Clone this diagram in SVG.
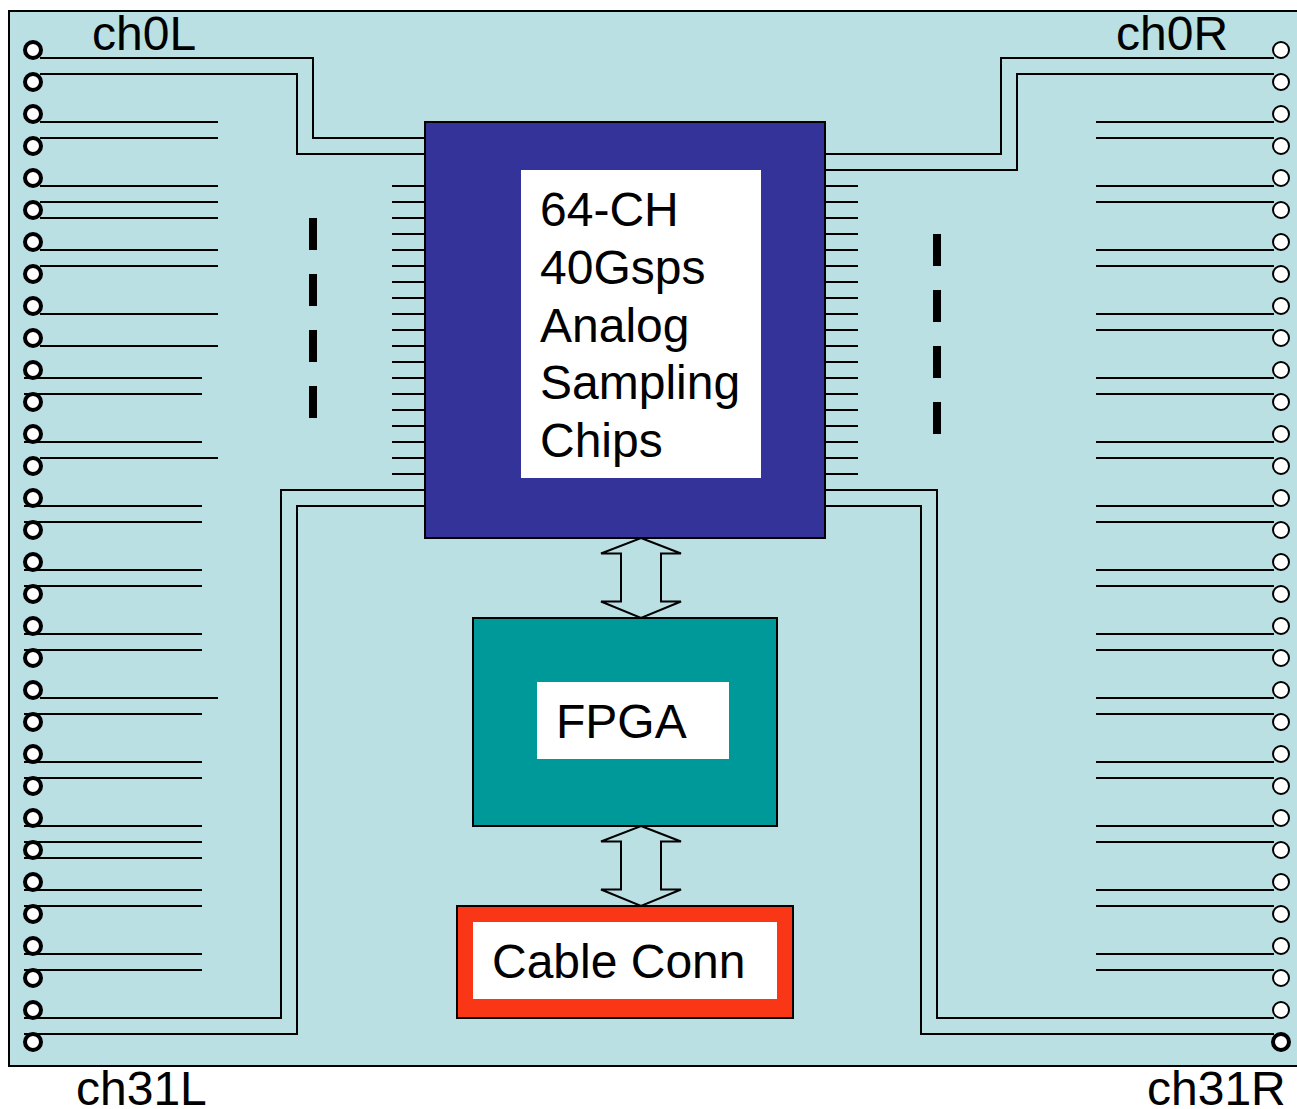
<svg xmlns="http://www.w3.org/2000/svg" width="1297" height="1109" viewBox="0 0 1297 1109">
<style>
text{font-family:"Liberation Sans",Arial,sans-serif;font-size:48px;fill:#000}
.box{stroke:#000;stroke-width:2}
.w{stroke:#000;stroke-width:2;fill:none}
.arr{stroke:#000;stroke-width:2;fill:#bae0e3;stroke-linejoin:miter}
.pl{fill:#fff;stroke:#000;stroke-width:4}
.pr{fill:#fff;stroke:#000;stroke-width:2}
.d{fill:#000}
</style>
<defs>
<circle id="pad" r="8"/>
</defs>
<rect width="1297" height="1109" fill="#fff"/>
<rect id="board" x="9" y="11" width="1292" height="1055" fill="#bae0e3" stroke="#000" stroke-width="2"/>
<g id="connectors">
<path class="w" d="M40 58H313V138H425M40 74H297V154H425M24 1018H281V490H425M24 1034H297V506H425"/>
<path class="w" d="M1274 58H1001V154H825M1274 74H1017V170H825M1274 1018H937V490H825M1274 1034H921V506H825"/>
<path class="w" d="M40 122H218M40 138H218M40 186H218M40 202H218M40 218H218M40 250H218M40 266H218M40 314H218M40 346H218M24 378H202M24 394H202M24 442H202M40 458H218M24 506H202M24 522H202M24 570H202M24 586H202M24 634H202M24 650H202M40 698H218M24 714H202M24 762H202M24 778H202M24 826H202M24 842H202M24 858H202M24 890H202M24 906H202M24 954H202M24 970H202"/>
<path class="w" d="M1096 122H1274M1096 138H1274M1096 186H1274M1096 202H1274M1096 250H1274M1096 266H1274M1096 314H1274M1096 330H1274M1096 378H1274M1096 394H1274M1096 442H1274M1096 458H1274M1096 506H1274M1096 522H1274M1096 570H1274M1096 586H1274M1096 634H1274M1096 650H1274M1096 698H1274M1096 714H1274M1096 762H1274M1096 778H1274M1096 826H1274M1096 842H1274M1096 890H1274M1096 906H1274M1096 954H1274M1096 970H1274"/>
<path class="w" d="M392 186H425M392 202H425M392 218H425M392 234H425M392 250H425M392 266H425M392 282H425M392 298H425M392 314H425M392 330H425M392 346H425M392 362H425M392 378H425M392 394H425M392 410H425M392 426H425M392 442H425M392 458H425M392 474H425"/>
<path class="w" d="M825 186H858M825 202H858M825 218H858M825 234H858M825 250H858M825 266H858M825 282H858M825 298H858M825 314H858M825 330H858M825 346H858M825 362H858M825 378H858M825 394H858M825 410H858M825 426H858M825 442H858M825 458H858M825 474H858"/>
<polygon class="arr" points="641,538 681,553.500 661,553.500 661,601.500 681,601.500 641,618 601,601.500 621,601.500 621,553.500 601,553.500"/>
<polygon class="arr" points="641,826 681,841.500 661,841.500 661,889.500 681,889.500 641,906 601,889.500 621,889.500 621,841.500 601,841.500"/>
</g>
<g id="pads-left" class="pl">
<use href="#pad" x="33" y="50"/><use href="#pad" x="33" y="82"/><use href="#pad" x="33" y="114"/><use href="#pad" x="33" y="146"/><use href="#pad" x="33" y="178"/><use href="#pad" x="33" y="210"/><use href="#pad" x="33" y="242"/><use href="#pad" x="33" y="274"/><use href="#pad" x="33" y="306"/><use href="#pad" x="33" y="338"/><use href="#pad" x="33" y="370"/><use href="#pad" x="33" y="402"/><use href="#pad" x="33" y="434"/><use href="#pad" x="33" y="466"/><use href="#pad" x="33" y="498"/><use href="#pad" x="33" y="530"/><use href="#pad" x="33" y="562"/><use href="#pad" x="33" y="594"/><use href="#pad" x="33" y="626"/><use href="#pad" x="33" y="658"/><use href="#pad" x="33" y="690"/><use href="#pad" x="33" y="722"/><use href="#pad" x="33" y="754"/><use href="#pad" x="33" y="786"/><use href="#pad" x="33" y="818"/><use href="#pad" x="33" y="850"/><use href="#pad" x="33" y="882"/><use href="#pad" x="33" y="914"/><use href="#pad" x="33" y="946"/><use href="#pad" x="33" y="978"/><use href="#pad" x="33" y="1010"/><use href="#pad" x="33" y="1042"/>
</g>
<g id="pads-right" class="pr">
<use href="#pad" x="1281" y="50"/><use href="#pad" x="1281" y="82"/><use href="#pad" x="1281" y="114"/><use href="#pad" x="1281" y="146"/><use href="#pad" x="1281" y="178"/><use href="#pad" x="1281" y="210"/><use href="#pad" x="1281" y="242"/><use href="#pad" x="1281" y="274"/><use href="#pad" x="1281" y="306"/><use href="#pad" x="1281" y="338"/><use href="#pad" x="1281" y="370"/><use href="#pad" x="1281" y="402"/><use href="#pad" x="1281" y="434"/><use href="#pad" x="1281" y="466"/><use href="#pad" x="1281" y="498"/><use href="#pad" x="1281" y="530"/><use href="#pad" x="1281" y="562"/><use href="#pad" x="1281" y="594"/><use href="#pad" x="1281" y="626"/><use href="#pad" x="1281" y="658"/><use href="#pad" x="1281" y="690"/><use href="#pad" x="1281" y="722"/><use href="#pad" x="1281" y="754"/><use href="#pad" x="1281" y="786"/><use href="#pad" x="1281" y="818"/><use href="#pad" x="1281" y="850"/><use href="#pad" x="1281" y="882"/><use href="#pad" x="1281" y="914"/><use href="#pad" x="1281" y="946"/><use href="#pad" x="1281" y="978"/><use href="#pad" x="1281" y="1010"/><use href="#pad" x="1281" y="1042" class="pl"/>
</g>
<g id="dashes-left" class="d"><rect x="309" y="218" width="8" height="32"/><rect x="309" y="274" width="8" height="32"/><rect x="309" y="330" width="8" height="32"/><rect x="309" y="386" width="8" height="32"/></g>
<g id="dashes-right" class="d"><rect x="933" y="234" width="8" height="32"/><rect x="933" y="290" width="8" height="32"/><rect x="933" y="346" width="8" height="32"/><rect x="933" y="402" width="8" height="32"/></g>
<g id="chips">
<rect class="box" x="425" y="122" width="400" height="416" fill="#333399"/>
<rect x="521" y="170" width="240" height="308" fill="#fff"/>
<text x="540" y="226">64-CH</text><text x="540" y="284">40Gsps</text><text x="540" y="342">Analog</text><text x="540" y="399">Sampling</text><text x="540" y="457">Chips</text>
</g>
<g id="fpga">
<rect class="box" x="473" y="618" width="304" height="208" fill="#009999"/>
<rect x="537" y="682" width="192" height="77" fill="#fff"/>
<text x="556" y="738">FPGA</text>
</g>
<g id="cable">
<rect class="box" x="457" y="906" width="336" height="112" fill="#f93615"/>
<rect x="473" y="922" width="304" height="77" fill="#fff"/>
<text x="492" y="978">Cable Conn</text>
</g>
<g id="labels">
<text x="92" y="50">ch0L</text><text x="1116" y="50">ch0R</text><text x="76" y="1105">ch31L</text><text x="1147" y="1105">ch31R</text>
</g>
</svg>
